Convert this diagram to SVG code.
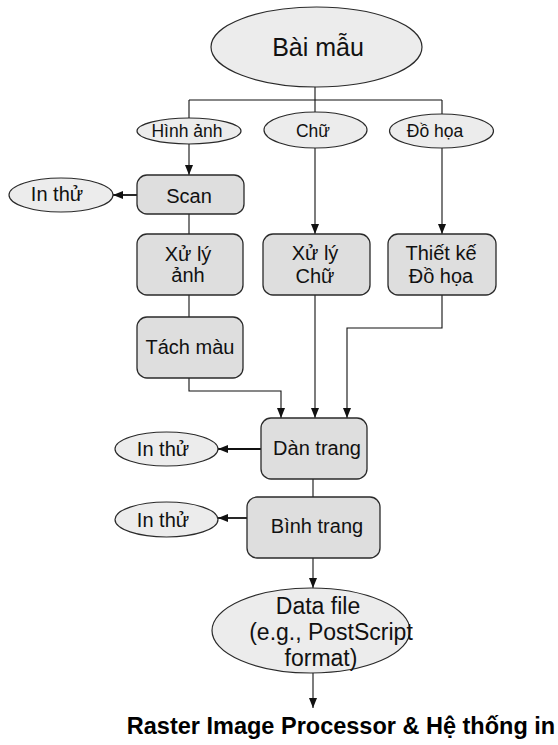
<svg xmlns="http://www.w3.org/2000/svg" width="558" height="745" viewBox="0 0 558 745">
<style>
  .ell { fill: #ececec; stroke: #2a2a2a; stroke-width: 1.2; }
  .box { fill: #dedede; stroke: #2a2a2a; stroke-width: 1.3; }
  .conn { fill: none; stroke: #111; stroke-width: 1.1; }
  .arr { marker-end: url(#ah); }
  text { font-family: "Liberation Sans", Arial, Helvetica, sans-serif; fill: #111; text-anchor: middle; }
  .t17 { font-size: 17.5px; }
  .t20 { font-size: 20px; }
  .t24 { font-size: 23px; }
  .title { font-size: 23.5px; font-weight: bold; fill: #000; }
</style>
<defs>
  <marker id="ah" markerUnits="userSpaceOnUse" markerWidth="10" markerHeight="8" refX="10" refY="4" orient="auto">
    <path d="M0,0 L10,4 L0,8 z" fill="#111"/>
  </marker>
</defs>
<rect width="558" height="745" fill="#fff"/>

<g id="connectors">
  <path class="conn" d="M315,87 V100 M189,100 H442 M189,100 V118 M315,100 V112 M442,100 V114"/>
  <path class="conn arr" d="M189,144 V175"/>
  <path class="conn arr" d="M315,148 V234"/>
  <path class="conn arr" d="M442,148 V234"/>
  <path class="conn arr" d="M137,195 H113" style="stroke-width:1.8"/>
  <path class="conn" d="M189,214 V234"/>
  <path class="conn" d="M189,295 V317"/>
  <path class="conn arr" d="M189,378 V391 H281 V418"/>
  <path class="conn arr" d="M315,295 V418"/>
  <path class="conn arr" d="M442,295 V328 H347 V418"/>
  <path class="conn arr" d="M261,449 H218" style="stroke-width:1.8"/>
  <path class="conn" d="M313,479 V497"/>
  <path class="conn arr" d="M247,518 H218" style="stroke-width:1.8"/>
  <path class="conn arr" d="M313,558 V588"/>
  <path class="conn arr" d="M313,673 V708"/>
</g>

<g id="bai-mau">
  <ellipse class="ell" cx="316.5" cy="47" rx="105.5" ry="40"/>
  <text x="318" y="56" style="font-size:25px">Bài mẫu</text>
</g>
<g id="hinh-anh">
  <ellipse class="ell" cx="189" cy="131" rx="52" ry="13"/>
  <text class="t17" x="187" y="137">Hình ảnh</text>
</g>
<g id="chu">
  <ellipse class="ell" cx="315.5" cy="130" rx="51.5" ry="18"/>
  <text class="t17" x="313" y="137">Chữ</text>
</g>
<g id="do-hoa">
  <ellipse class="ell" cx="441.5" cy="131" rx="52" ry="17"/>
  <text class="t17" x="435" y="137">Đồ họa</text>
</g>

<g id="scan">
  <rect class="box" x="137" y="175" width="107" height="39" rx="10"/>
  <text class="t20" x="189" y="203">Scan</text>
</g>
<g id="in-thu-1">
  <ellipse class="ell" cx="61" cy="195" rx="52" ry="17"/>
  <text class="t20" x="57" y="201">In thử</text>
</g>
<g id="xu-ly-anh">
  <rect class="box" x="137" y="234" width="106" height="61" rx="10"/>
  <text class="t20" x="188" y="261">Xử lý</text>
  <text class="t20" x="188" y="282">ảnh</text>
</g>
<g id="tach-mau">
  <rect class="box" x="137" y="317" width="106" height="61" rx="10"/>
  <text class="t20" x="190" y="354">Tách màu</text>
</g>
<g id="xu-ly-chu">
  <rect class="box" x="263" y="234" width="107" height="61" rx="10"/>
  <text class="t20" x="315" y="260">Xử lý</text>
  <text class="t20" x="315" y="283">Chữ</text>
</g>
<g id="thiet-ke">
  <rect class="box" x="388" y="234" width="108" height="61" rx="10"/>
  <text class="t20" x="441" y="260">Thiết kế</text>
  <text class="t20" x="441" y="283">Đồ họa</text>
</g>

<g id="dan-trang">
  <rect class="box" x="261" y="418" width="106" height="61" rx="10"/>
  <text class="t20" x="317" y="455">Dàn trang</text>
</g>
<g id="in-thu-2">
  <ellipse class="ell" cx="166.5" cy="449" rx="51.5" ry="17"/>
  <text class="t20" x="163" y="456">In thử</text>
</g>
<g id="binh-trang">
  <rect class="box" x="247" y="497" width="133" height="61" rx="10"/>
  <text class="t20" x="317" y="533">Bình trang</text>
</g>
<g id="in-thu-3">
  <ellipse class="ell" cx="166.5" cy="519.5" rx="51.5" ry="17.5"/>
  <text class="t20" x="163" y="527">In thử</text>
</g>

<g id="data-file">
  <ellipse class="ell" cx="311" cy="630.5" rx="99" ry="42.5"/>
  <text class="t24" x="318" y="614">Data file</text>
  <text class="t24" x="331" y="640">(e.g., PostScript</text>
  <text class="t24" x="321" y="666">format)</text>
</g>

<g id="rip">
  <text class="title" x="341" y="734">Raster Image Processor &amp; Hệ thống in</text>
</g>
</svg>
